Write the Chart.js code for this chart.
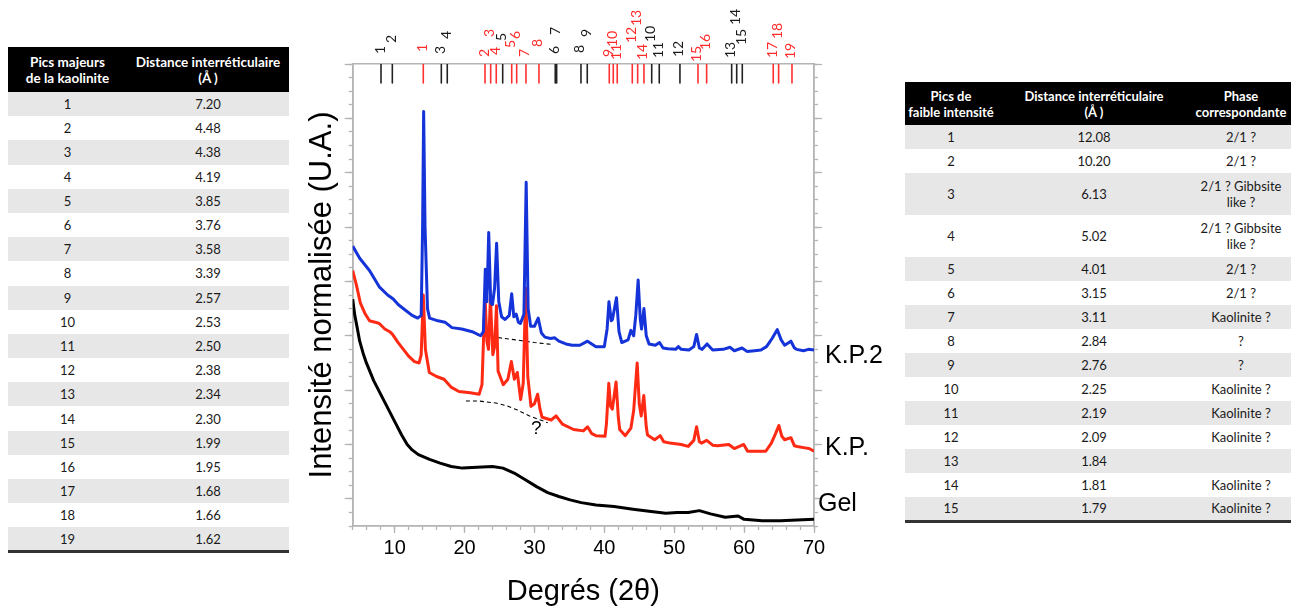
<!DOCTYPE html>
<html lang="fr">
<head>
<meta charset="utf-8">
<script src="https://cdn.jsdelivr.net/npm/chart.js@4.4.1/dist/chart.umd.min.js"></script>
<style>
  body { margin: 0; width: 1291px; height: 607px; background: #fff; position: relative; overflow: hidden; }
  #wrap { position: absolute; left: 290px; top: 0; width: 610px; height: 607px; }
  table { position: absolute; border-collapse: collapse; font-family: "Lato", sans-serif; font-size: 13px; color: #1a1a1a; text-align: center; table-layout: fixed; }
  th { background: #000; color: #fff; font-weight: bold; font-size: 13.5px; line-height: 16px; padding: 0; }
  td { padding: 0; line-height: 16px; }
  tbody tr:nth-child(odd) td { background: #e7e7e7; }
  #left { left: 8px; top: 47px; width: 281px; border-bottom: 3px solid #333; }
  #left thead tr { height: 45px; }
  #right { left: 905px; top: 82px; width: 386px; border-bottom: 3px solid #333; }
  #right th { font-size: 13px; }
  #right thead tr { height: 43px; }
  #right td:nth-child(3) { padding: 0 4px; }
  .lbl { position: absolute; font-family: "Liberation Sans", sans-serif; font-size: 25px; line-height: 25px; color: #000; }
  .q { position: absolute; font-family: "Liberation Sans", sans-serif; font-size: 19px; line-height: 19px; color: #000; }
</style>
</head>
<body>
<table id="left">
  <colgroup><col style="width:119px"><col style="width:162px"></colgroup>
  <thead><tr><th>Pics majeurs<br>de la kaolinite</th><th>Distance interréticulaire<br>(Å )</th></tr></thead>
  <tbody></tbody>
</table>
<table id="right">
  <colgroup><col style="width:92px"><col style="width:194px"><col style="width:100px"></colgroup>
  <thead><tr><th>Pics de<br>faible intensité</th><th>Distance interréticulaire<br>(Å )</th><th>Phase<br>correspondante</th></tr></thead>
  <tbody></tbody>
</table>
<div id="wrap"><canvas id="xrd" width="610" height="607"></canvas></div>
<div class="lbl" style="left:825px; top:342px;">K.P.2</div>
<div class="lbl" style="left:825px; top:434px;">K.P.</div>
<div class="lbl" style="left:818px; top:490px;">Gel</div>
<div class="q" style="left:531px; top:418px;">?</div>
<script>
const kaoD = ['7.20', '4.48', '4.38', '4.19', '3.85', '3.76', '3.58', '3.39', '2.57', '2.53', '2.50', '2.38', '2.34', '2.30', '1.99', '1.95', '1.68', '1.66', '1.62'];
const weakD = ['12.08', '10.20', '6.13', '5.02', '4.01', '3.15', '3.11', '2.84', '2.76', '2.25', '2.19', '2.09', '1.84', '1.81', '1.79'];
const weakPhase = ['2/1 ?', '2/1 ?', '2/1 ? Gibbsite like ?', '2/1 ? Gibbsite like ?', '2/1 ?', '2/1 ?', 'Kaolinite ?', '?', '?', 'Kaolinite ?', 'Kaolinite ?', 'Kaolinite ?', '', 'Kaolinite ?', 'Kaolinite ?'];

// positions (degrees 2theta) of the reference marks at the top
const kaoPeaks = [14.1, 22.93, 23.74, 24.54, 26.75, 27.46, 28.79, 30.65, 40.71, 41.28, 41.85, 44.0, 44.77, 45.67, 53.4, 54.64, 64.17, 64.94, 66.85];
const weakPeaks = [8.05, 9.67, 16.68, 17.53, 25.46, 32.98, 33.18, 36.66, 37.56, 46.78, 47.86, 50.82, 58.22, 58.94, 59.74];

// diffractograms, [2theta, intensity]
const kp2 = [[4.0, 20.6], [5.0, 19.7], [6.4, 18.8], [7.8, 17.6], [9.0, 17.0], [9.8, 16.7], [10.5, 16.3], [11.5, 15.9], [12.5, 15.5], [13.3, 15.3], [13.8, 15.5], [14.0, 22], [14.15, 30.5], [14.35, 22], [14.7, 16.0], [15.0, 15.3], [16.2, 15.1], [17.2, 15.0], [18.2, 14.6], [19.6, 14.5], [21.1, 14.3], [22.3, 14.0], [22.7, 14.3], [22.97, 18.9], [23.2, 16.5], [23.46, 21.6], [23.75, 16.4], [24.0, 16.3], [24.3, 17.5], [24.59, 20.8], [24.9, 16.5], [25.3, 15.4], [25.8, 15.2], [26.4, 15.5], [26.75, 17.1], [27.05, 15.4], [27.39, 15.6], [27.7, 15.0], [28.0, 14.9], [28.5, 15.6], [28.82, 25.3], [29.1, 16.0], [29.46, 14.7], [30.0, 14.7], [30.54, 15.3], [31.0, 14.2], [31.5, 13.9], [32.3, 13.8], [32.9, 13.85], [33.5, 13.6], [34.5, 13.4], [35.4, 13.3], [36.5, 13.3], [37.6, 13.6], [38.8, 13.2], [40.0, 13.2], [40.4, 14.5], [40.66, 16.5], [41.0, 15.1], [41.16, 15.2], [41.74, 16.8], [42.1, 14.3], [42.5, 13.5], [43.4, 13.7], [43.8, 14.4], [44.2, 14.0], [44.5, 15.5], [44.84, 18.1], [45.15, 15.2], [45.33, 14.5], [45.67, 16.0], [46.0, 14.0], [46.4, 13.4], [47.3, 13.3], [47.9, 13.5], [48.4, 13.1], [49.1, 13.05], [50.2, 13.0], [50.6, 13.2], [51.0, 13.0], [52.1, 12.95], [52.8, 13.2], [53.2, 14.1], [53.6, 13.1], [54.0, 13.0], [54.7, 13.4], [55.5, 12.95], [57.0, 13.0], [58.0, 13.15], [58.6, 12.9], [59.7, 13.1], [60.4, 12.85], [61.5, 12.9], [62.4, 12.95], [63.2, 13.2], [63.6, 13.5], [64.0, 13.8], [64.74, 14.45], [65.3, 13.7], [65.8, 13.3], [66.7, 13.6], [67.2, 13.1], [67.5, 13.0], [68.5, 12.9], [69.2, 13.0], [70.0, 12.95]];
const kp = [[4.0, 18.8], [4.5, 17.8], [5.1, 16.4], [5.8, 15.6], [6.4, 15.1], [7.2, 15.0], [7.8, 14.9], [8.6, 14.5], [9.3, 14.3], [9.7, 14.1], [10.5, 13.5], [11.25, 13.0], [12.0, 12.5], [12.84, 12.1], [13.5, 12.0], [13.8, 12.6], [14.1, 17.0], [14.4, 13.0], [14.96, 11.3], [16.0, 11.0], [17.07, 10.8], [18.13, 10.2], [19.2, 9.9], [20.8, 9.8], [22.1, 9.7], [22.5, 10.4], [22.93, 17.0], [23.2, 13.6], [23.43, 13.0], [23.7, 16.8], [24.05, 12.6], [24.3, 13.2], [24.57, 16.2], [24.8, 11.4], [25.54, 10.4], [26.2, 10.8], [26.7, 12.1], [27.13, 10.8], [27.55, 11.3], [28.03, 9.3], [28.4, 10.5], [28.75, 17.5], [29.05, 11.0], [29.51, 8.8], [30.0, 9.0], [30.46, 9.7], [30.8, 8.6], [31.1, 8.0], [32.4, 7.8], [33.1, 8.1], [34.0, 7.5], [35.6, 7.1], [37.0, 7.0], [37.6, 7.3], [38.2, 6.8], [38.8, 6.65], [40.1, 6.6], [40.3, 7.5], [40.64, 10.5], [40.9, 8.8], [41.15, 8.6], [41.68, 10.6], [42.0, 8.0], [42.2, 7.1], [43.0, 6.65], [43.8, 7.2], [44.2, 8.5], [44.7, 12.0], [45.0, 9.0], [45.28, 8.1], [45.65, 9.6], [46.0, 7.3], [46.18, 6.7], [47.2, 6.35], [48.0, 6.65], [48.5, 6.2], [49.4, 6.1], [51.0, 6.0], [52.0, 5.86], [52.8, 6.3], [53.2, 7.3], [53.6, 6.2], [53.9, 6.1], [54.65, 6.3], [55.5, 5.95], [56.2, 5.9], [57.8, 6.0], [58.6, 5.7], [59.95, 6.0], [60.5, 5.5], [62.3, 5.5], [63.1, 5.5], [63.9, 6.1], [64.5, 6.8], [64.97, 7.4], [65.4, 6.6], [65.8, 6.35], [66.7, 6.5], [67.2, 5.9], [67.6, 5.85], [68.7, 5.75], [69.3, 5.7], [70.0, 5.5]];
const gel = [[4.0, 16.7], [4.3, 15.5], [4.64, 14.6], [5.0, 13.6], [5.5, 12.7], [5.96, 12.0], [7.0, 10.7], [8.6, 9.1], [10.2, 7.5], [11.0, 6.7], [11.8, 6.0], [12.5, 5.6], [13.4, 5.25], [15.0, 4.9], [16.5, 4.63], [18.1, 4.38], [19.7, 4.26], [21.8, 4.33], [24.0, 4.38], [25.5, 4.26], [27.1, 3.9], [28.7, 3.4], [30.3, 2.9], [31.9, 2.46], [33.5, 2.17], [35.1, 1.92], [36.7, 1.72], [38.8, 1.55], [41.4, 1.43], [44.1, 1.23], [46.7, 1.06], [48.8, 0.94], [50.4, 0.99], [52.0, 0.99], [53.6, 1.13], [55.2, 0.89], [57.3, 0.64], [59.15, 0.74], [60.0, 0.49], [62.6, 0.39], [65.2, 0.39], [70.0, 0.49]];
const baseKp2 = [[21.8, 14.05], [25.0, 13.85], [28.0, 13.65], [30.0, 13.5], [32.4, 13.37]];
const baseKp = [[20.2, 9.2], [22.0, 9.2], [24.5, 9.05], [26.0, 8.85], [27.5, 8.55], [29.3, 8.1], [31.9, 7.6]];

// label heights above the frame for the top marks (px)
const kaoLift = [12, 7, 27, 9, 16, 25, 7, 17, 7, 17, 4, 21, 38, 4, 2, 14, 6, 25, 5];
const weakLift = [10, 21, 10, 25, 23, 10, 29, 11, 27, 22, 6, 7, 6, 39, 19];

const xMin = 4, xMax = 70, yMin = 0, yMax = 34;
const markTop = 34, markBottom = 32.6;
const axisGrey = '#b4b4b4';

function fillTables() {
    let lb = document.querySelector('#left tbody');
    kaoD.forEach((d, i) => {
        let tr = document.createElement('tr');
        tr.style.height = '24.2px';
        tr.innerHTML = '<td>' + (i + 1) + '</td><td>' + d + '</td>';
        lb.appendChild(tr);
    });
    let rb = document.querySelector('#right tbody');
    weakD.forEach((d, i) => {
        let tr = document.createElement('tr');
        tr.style.height = weakPhase[i].length > 12 ? '42px' : '24px';
        tr.innerHTML = '<td>' + (i + 1) + '</td><td>' + d + '</td><td>' + weakPhase[i] + '</td>';
        rb.appendChild(tr);
    });
}

function toPts(arr) {
    return arr.map(p => ({x: p[0], y: p[1]}));
}

function marks(list) {
    let pts = [];
    list.forEach(p => {
        pts.push({x: p, y: markTop}, {x: p, y: markBottom}, {x: p, y: null});
    });
    return pts;
}

function line(data, color, width, dash) {
    return {
        data: data, borderColor: color, borderWidth: width, borderDash: dash || [],
        pointRadius: 0, tension: 0, fill: false, spanGaps: false,
        borderJoinStyle: 'round', borderCapStyle: 'butt'
    };
}

const peakLabels = {
    id: 'peakLabels',
    afterDraw(chart) {
        let ctx = chart.ctx;
        let xs = chart.scales.x;
        let top = chart.chartArea.top;
        ctx.save();
        ctx.font = '14px Lato';
        ctx.textBaseline = 'middle';
        ctx.textAlign = 'left';
        function put(list, lift, color) {
            ctx.fillStyle = color;
            list.forEach((p, i) => {
                ctx.save();
                ctx.translate(xs.getPixelForValue(p) - 1, top - lift[i]);
                ctx.rotate(-Math.PI / 2);
                ctx.fillText(String(i + 1), 0, 0);
                ctx.restore();
            });
        }
        put(weakPeaks, weakLift, '#1a1a1a');
        put(kaoPeaks, kaoLift, '#ff2b2b');
        ctx.restore();
    }
};

function fixed(size) {
    return function (scale) {
        if (scale.isHorizontal()) scale.height = size; else scale.width = size;
    };
}

function setTicks(values) {
    return function (scale) {
        scale.ticks = values.map(v => ({value: v}));
    };
}

function range(a, b, step) {
    let out = [];
    for (let v = a; v <= b + 1e-9; v += step) out.push(v);
    return out;
}

function axis(pos, weight, size, tickVals, tickLen, extra) {
    let horiz = pos === 'top' || pos === 'bottom';
    return Object.assign({
        type: 'linear', position: pos, weight: weight,
        min: horiz ? xMin : yMin, max: horiz ? xMax : yMax,
        grid: {drawOnChartArea: false, drawTicks: tickLen > 0, tickLength: tickLen, tickColor: axisGrey, tickWidth: 1.3},
        border: {display: true, color: axisGrey, width: 1.6},
        ticks: {display: false},
        afterFit: fixed(size),
        afterBuildTicks: setTicks(tickVals)
    }, extra || {});
}

function drawChart() {
    let datasets = [
        line(toPts(kp2), '#1433d8', 3),
        line(toPts(kp), '#ff2a14', 3),
        line(toPts(gel), '#000000', 3),
        line(toPts(baseKp2), '#000000', 1.1, [4, 3]),
        line(toPts(baseKp), '#000000', 1.1, [4, 3]),
        line(marks(weakPeaks), '#222222', 1.6),
        line(marks(kaoPeaks), '#ff3030', 1.6)
    ];
    new Chart(document.getElementById('xrd'), {
        type: 'line',
        data: {datasets: datasets},
        options: {
            responsive: false,
            animation: false,
            devicePixelRatio: 1,
            layout: {padding: 0},
            plugins: {legend: {display: false}, tooltip: {enabled: false}},
            scales: {
                x: axis('bottom', 1, 81, range(10, 70, 10), 7, {
                    ticks: {display: true, padding: 3, color: '#000', autoSkip: false, maxRotation: 0,
                        font: {family: 'Liberation Sans', size: 20}},
                    title: {display: true, text: 'Degrés (2θ)', color: '#000',
                        font: {family: 'Liberation Sans', size: 29, lineHeight: 1}, padding: {top: 0, bottom: 1}}
                }),
                xMinor: axis('bottom', 0, 0, range(4, 70, 2), 4),
                xTop: axis('top', 0, 64, [], 0),
                y: axis('left', 1, 62.7, range(2, 34, 4), 8, {
                    title: {display: true, text: 'Intensité normalisée (U.A.)', color: '#000',
                        font: {family: 'Liberation Sans', size: 31, lineHeight: 1}, padding: {top: 17, bottom: 0}}
                }),
                yMinor: axis('left', 0, 0, range(0, 34, 1), 4),
                yRight: axis('right', 1, 86, range(2, 34, 4), 8),
                yRightMinor: axis('right', 0, 0, range(0, 34, 1), 4)
            }
        },
        plugins: [peakLabels]
    });
}

fillTables();
drawChart();
</script>
</body>
</html>
